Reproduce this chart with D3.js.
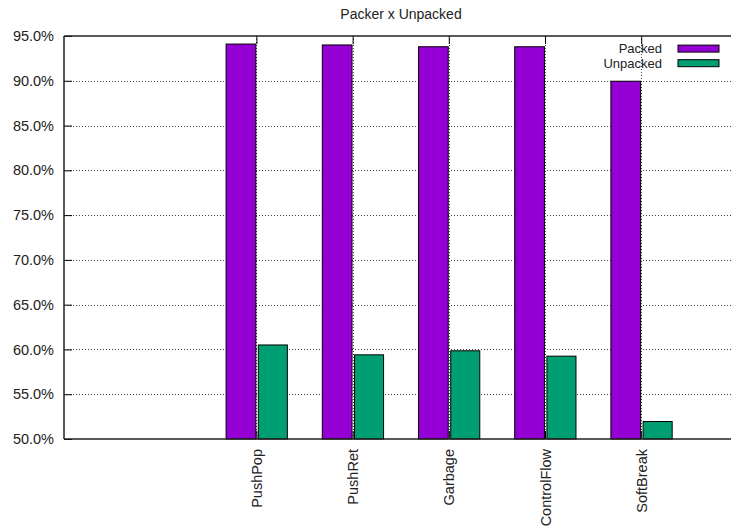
<!DOCTYPE html>
<html>
<head>
<meta charset="utf-8">
<script src="https://cdn.jsdelivr.net/npm/d3@7"></script>
<style>
  html, body { margin: 0; padding: 0; background: #fff; }
  svg { display: block; font-family: "Liberation Sans", Arial, sans-serif; }
</style>
</head>
<body>
<svg id="chart" width="731" height="526"></svg>
<script>
const title = "Packer x Unpacked";
const categories = ["PushPop", "PushRet", "Garbage", "ControlFlow", "SoftBreak"];
const seriesNames = ["Packed", "Unpacked"];
const packed = [94.1, 94.0, 93.8, 93.8, 89.95];
const unpacked = [60.5, 59.4, 59.85, 59.25, 51.95];
const yTicks = [50, 55, 60, 65, 70, 75, 80, 85, 90, 95];
const colors = ["#9400d3", "#009e73"];

(function () {
const svg = d3.select("#chart");
const pLeft = 64, pTop = 36, pBottom = 439, pRight = 731;

// category index 0..4; the axis starts two slots before the first category
const x = d3.scaleLinear().domain([-2, 5]).range([pLeft, pLeft + 7 * 96.2]);
const y = d3.scaleLinear().domain([50, 95]).range([pBottom, pTop]);

// bar offsets in category units
const barSpans = [[-0.315, -0.006], [0.02, 0.322]];

// grid
const grid = svg.append("g").attr("stroke", "#000").attr("stroke-width", 1)
  .attr("stroke-dasharray", "1,2").attr("opacity", 0.75);
yTicks.filter(t => t > 50 && t < 95).forEach(t => {
  grid.append("line").attr("x1", pLeft).attr("x2", pRight)
    .attr("y1", Math.round(y(t)) + 0.5).attr("y2", Math.round(y(t)) + 0.5);
});
categories.forEach((c, i) => {
  grid.append("line").attr("x1", Math.round(x(i)) + 0.5).attr("x2", Math.round(x(i)) + 0.5)
    .attr("y1", pTop).attr("y2", pBottom);
});

// bars
const series = [packed, unpacked];
series.forEach((vals, s) => {
  svg.append("g").selectAll("rect").data(vals).join("rect")
    .attr("x", (d, i) => x(i + barSpans[s][0]))
    .attr("width", (d, i) => x(i + barSpans[s][1]) - x(i + barSpans[s][0]))
    .attr("y", d => y(d))
    .attr("height", d => y(50) - y(d))
    .attr("fill", colors[s])
    .attr("stroke", "#000")
    .attr("stroke-width", 1);
});

// axes: left, top, bottom (inward ticks)
const yAxis = d3.axisLeft(y).tickValues(yTicks).tickSize(-8).tickPadding(10)
  .tickFormat(d => d3.format(".1f")(d) + "%");
const gy = svg.append("g").attr("transform", `translate(${pLeft},0)`).call(yAxis);
gy.select(".domain").remove();
gy.selectAll(".tick line").attr("stroke", "#000").attr("stroke-width", 1);
gy.selectAll(".tick text").attr("font-size", "14.5px").attr("fill", "#222")
  .attr("font-family", "Liberation Sans, Arial, sans-serif");

const xAxisB = d3.axisBottom(x).tickValues(d3.range(categories.length))
  .tickSize(-8).tickFormat(i => categories[i]);
const gxb = svg.append("g").attr("transform", `translate(0,${pBottom})`).call(xAxisB);
gxb.select(".domain").remove();
gxb.selectAll(".tick line").attr("stroke", "#000");
gxb.selectAll(".tick text")
  .attr("font-size", "14.5px").attr("fill", "#222")
  .attr("font-family", "Liberation Sans, Arial, sans-serif")
  .attr("text-anchor", "end")
  .attr("transform", "translate(0,10) rotate(-90)")
  .attr("x", 0).attr("y", 0).attr("dy", "0.35em");

const xAxisT = d3.axisTop(x).tickValues(d3.range(categories.length)).tickSize(-8).tickFormat("");
const gxt = svg.append("g").attr("transform", `translate(0,${pTop})`).call(xAxisT);
gxt.select(".domain").remove();
gxt.selectAll(".tick line").attr("stroke", "#000");

// border lines
const border = svg.append("g").attr("stroke", "#222").attr("stroke-width", 1.5).attr("fill", "none");
border.append("line").attr("x1", pLeft).attr("x2", pLeft).attr("y1", pTop).attr("y2", pBottom);
border.append("line").attr("x1", pLeft).attr("x2", pRight).attr("y1", pTop).attr("y2", pTop);
border.append("line").attr("x1", pLeft).attr("x2", pRight).attr("y1", pBottom).attr("y2", pBottom);

// title
svg.append("text").attr("x", 401).attr("y", 19)
  .attr("text-anchor", "middle").attr("font-size", "14px").attr("fill", "#222")
  .text(title);

// legend
const legend = svg.append("g");
seriesNames.forEach((name, s) => {
  const cy = 48.6 + s * 14.6;
  legend.append("text").attr("x", 662).attr("y", cy).attr("dy", "0.35em")
    .attr("text-anchor", "end").attr("font-size", "13px").attr("fill", "#222").text(name);
  legend.append("rect").attr("x", 678).attr("y", cy - 3.5).attr("width", 41).attr("height", 7)
    .attr("fill", colors[s]).attr("stroke", "#000").attr("stroke-width", 1);
});
})();
</script>
</body>
</html>
